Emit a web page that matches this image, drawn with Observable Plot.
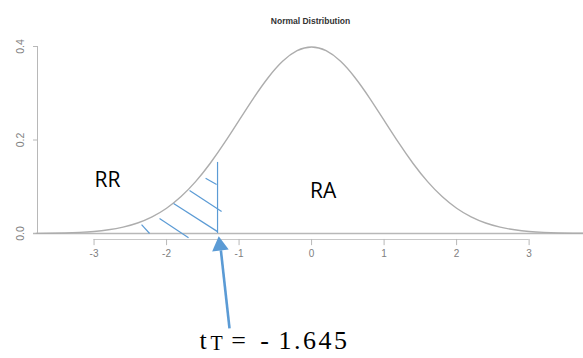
<!DOCTYPE html>
<html><head><meta charset="utf-8">
<script src="https://cdn.jsdelivr.net/npm/d3@7"></script>
<script src="https://cdn.jsdelivr.net/npm/@observablehq/plot@0.6"></script>
<style>html,body{margin:0;padding:0;background:#fff;overflow:hidden}</style>
</head><body><div id="chart"></div>
<script>
// Curve (standard normal density)
const xValues = [-3.8,-3.6,-3.4,-3.2,-3.0,-2.8,-2.6,-2.4,-2.2,-2.0,-1.8,-1.6,-1.4,-1.2,-1.0,-0.8,-0.6,-0.4,-0.2,0.0,
                 0.2,0.4,0.6,0.8,1.0,1.2,1.4,1.6,1.8,2.0,2.2,2.4,2.6,2.8,3.0,3.2,3.4,3.6,3.8];
const density = [0.0003,0.0006,0.0012,0.0024,0.0044,0.0079,0.0136,0.0224,0.0355,0.0540,0.0790,0.1109,0.1497,0.1942,0.2420,0.2897,0.3332,0.3683,0.3910,0.3989,
                 0.3910,0.3683,0.3332,0.2897,0.2420,0.1942,0.1497,0.1109,0.0790,0.0540,0.0355,0.0224,0.0136,0.0079,0.0044,0.0024,0.0012,0.0006,0.0003];

const xTicks = [-3,-2,-1,0,1,2,3];
const xTickLabels = ["-3","-2","-1","0","1","2","3"];
const yTicks = [0,0.2,0.4];
const yTickLabels = ["0.0","0.2","0.4"];
const titleText = "Normal Distribution";

// Hatched rejection region (as drawn)
const hatchX1 = [-1.462,-1.683,-1.903,-2.097,-2.345];
const hatchY1 = [0.118,0.092,0.064,0.032,0.019];
const hatchX2 = [-1.310,-1.241,-1.297,-1.697,-2.234];
const hatchY2 = [0.105,0.047,0.004,-0.009,0.000];
const boundaryX = -1.297;
const boundaryTop = 0.152;

// Region labels
const regionLabels = ["RR","RA"];
const regionX = [-2.814,0.159];
const regionY = [0.113,0.091];

// Critical value annotation
const arrowFrom = {x:-1.132, y:-0.203};
const arrowTo = {x:-1.251, y:-0.036};
const arrowHead = {x:-1.265, y:-0.0263};
const critParts = ["t","T","=","-","1.645"];
const critX = [-1.546,-1.394,-1.008,-0.650,-0.457];
const critY = [-0.246,-0.249,-0.246,-0.246,-0.246];
const critSize = [26,20,26,26,26];
const critAnchor = ["start","start","middle","middle","start"];

const curve = xValues.map((x,i)=>({x, y:density[i]}));
const hatch = hatchX1.map((x,i)=>({x1:x,y1:hatchY1[i],x2:hatchX2[i],y2:hatchY2[i]}));
const xMin = -3.78, xMax = 3.75;
const blue = "#5b9bd5";
const serif = "Liberation Serif, Times New Roman, serif";

const crit = critParts.map((t,i)=>({t, x:critX[i], y:critY[i], s:critSize[i], a:critAnchor[i]}));

const plot = Plot.plot({
  width: 583, height: 358,
  marginLeft: 37, marginRight: 0, marginTop: 46, marginBottom: 125,
  x: {domain: [xMin, xMax], axis: null},
  y: {domain: [0, 0.4], axis: null},
  style: {background: "white", fontFamily: "Liberation Sans, Arial, sans-serif", overflow: "visible"},
  marks: [
    // baseline at 0
    Plot.ruleY([0], {x1: -3.835, x2: xMax, stroke: "#b8b8b8", strokeWidth: 1.3}),
    // x axis line and ticks
    Plot.ruleY([0], {x1: -3, x2: 3, dy: 6, stroke: "#c8c8c8", strokeWidth: 1}),
    Plot.ruleX(xTicks, {y1: -0.0128, y2: -0.026, stroke: "#b8b8b8", strokeWidth: 1}),
    Plot.text(xTicks, {x: d=>d, y: 0, dy: 20, text: (d,i)=>xTickLabels[i], fill: "#808080", fontSize: 10}),
    // y axis line and ticks
    Plot.ruleX([xMin], {y1: 0, y2: 0.4, stroke: "#b8b8b8", strokeWidth: 1}),
    Plot.ruleY(yTicks, {x1: -3.835, x2: xMin, stroke: "#b8b8b8", strokeWidth: 1}),
    Plot.text(yTicks, {x: -4.015, y: d=>d, rotate: -90, text: (d,i)=>yTickLabels[i], fill: "#808080", fontSize: 10.5}),
    // title
    Plot.text([titleText], {frameAnchor: "top", dy: -29, fontWeight: "bold", fontSize: 8.5, fill: "#333"}),
    // density curve
    Plot.line(curve, {x: "x", y: "y", curve: "natural", stroke: "#adadad", strokeWidth: 1.4}),
    // hatching
    Plot.link(hatch, {x1: "x1", y1: "y1", x2: "x2", y2: "y2", stroke: blue, strokeWidth: 1.2}),
    Plot.ruleX([boundaryX], {y1: 0, y2: boundaryTop, stroke: blue, strokeWidth: 1.2}),
    // region labels
    Plot.text(regionLabels, {x: (d,i)=>regionX[i], y: (d,i)=>regionY[i], text: d=>d, fontSize: 21, fill: "#000", fontFamily: "Open Sans, sans-serif"}),
    // arrow
    Plot.link([arrowFrom], {x1: "x", y1: "y", x2: ()=>arrowTo.x, y2: ()=>arrowTo.y, stroke: blue, strokeWidth: 2.6}),
    Plot.dot([arrowHead], {x: "x", y: "y", symbol: "triangle", r: 6.2, fill: blue, stroke: "none", rotate: -6.8}),
    // critical value text
    Plot.text(crit, {x: "x", y: "y", text: "t", fontSize: "s", textAnchor: "start", lineAnchor: "bottom", fill: "#000", fontFamily: serif})
  ]
});
document.getElementById("chart").appendChild(plot);
// fine typography of the critical value text
plot.querySelectorAll("text").forEach(el => {
  const i = critParts.indexOf(el.textContent);
  if (i >= 0 && el.closest("g[font-family]") && el.closest("g[font-family]").getAttribute("font-family").startsWith("Liberation Serif")) {
    el.setAttribute("text-anchor", critAnchor[i]);
    if (el.textContent === "1.645") el.setAttribute("letter-spacing", "2.5");
  }
});
</script>
</body></html>
